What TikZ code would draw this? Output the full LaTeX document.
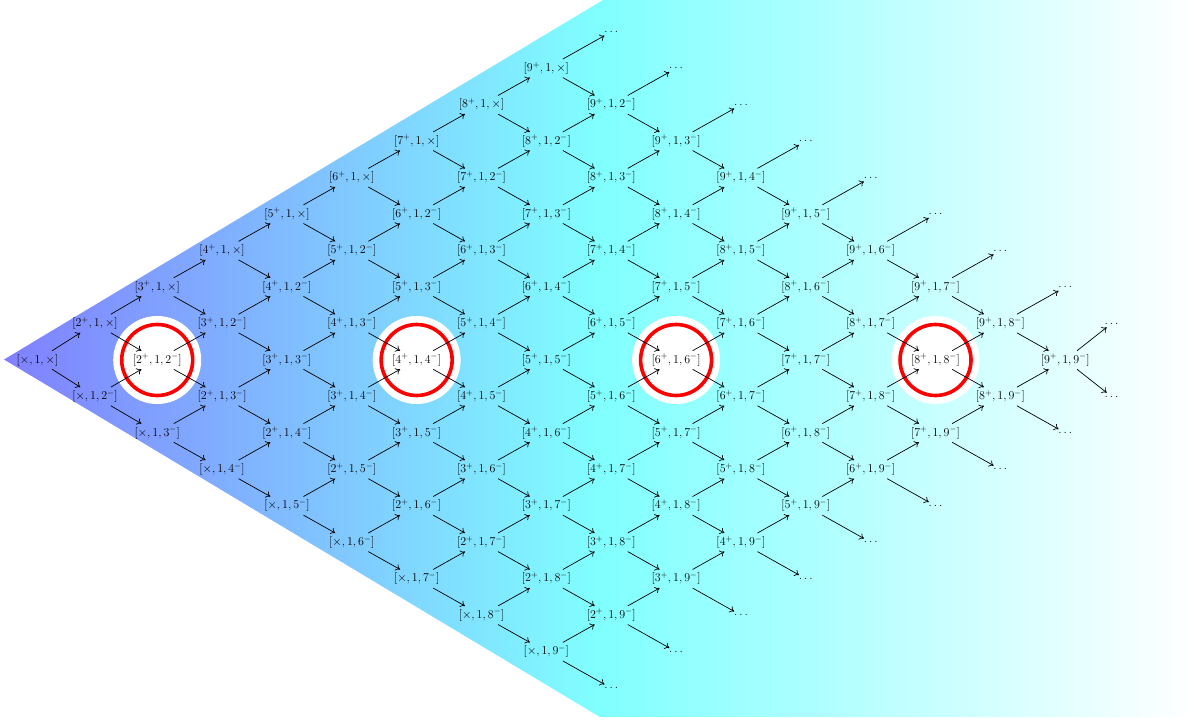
\documentclass[tikz,border=0pt]{standalone}
\usetikzlibrary{arrows.meta}
\begin{document}
\begin{tikzpicture}[x=1pt,y=-1pt,
  lbl/.style={font=\fontsize{12}{14}\selectfont, inner sep=3pt},
  dotsnode/.style={font=\fontsize{12}{14}\selectfont, inner sep=3pt},
  arr/.style={-{To[length=4.5pt,width=7pt]}, line width=0.7pt},
  ring/.style={draw=red, line width=3.6pt},
  halo/.style={fill=white}]
\useasboundingbox (0,0) rectangle (1193,717);
\shade[left color=blue!50, right color=white, middle color=cyan!50]
  (4,359.5) -- (603,0) -- (1193,0) -- (1193,717) -- (600,717) -- cycle;
% circles around the diagonal nodes
\foreach \k in {2,4,6,8}{
  \pgfmathsetmacro\xx{157.2+64.86*(2*\k-4)}
  \fill[halo] (\xx,360) circle[radius=44pt];
  \draw[ring] (\xx,360) circle[radius=35.5pt];
}
% main nodes
\foreach \a in {1,...,9}{
  \foreach \b in {1,...,9}{
    \pgfmathsetmacro\c{\a+\b-2}
    \pgfmathsetmacro\xx{\c==0 ? 37.5 : (\c==1 ? 95 : 157.2+64.86*(\c-2))}
    \pgfmathsetmacro\yy{360+36.46*(\b-\a)}
    \node[lbl] (n-\a-\b) at (\xx,\yy)
      {$[\ifnum\a=1 \times\else \a^{+}\fi,1,\ifnum\b=1 \times\else \b^{-}\fi]$};
  }
}
% continuation dots
\foreach \b in {1,...,9}{
  \pgfmathsetmacro\xx{\b==9 ? 1111.5 : 157.2+64.86*(\b+6)}
  \pgfmathsetmacro\yy{360+36.46*(\b-10)}
  \node[dotsnode] (n-10-\b) at (\xx,\yy) {$\ldots$};
}
\foreach \a in {1,...,9}{
  \pgfmathsetmacro\xx{\a==9 ? 1111.5 : 157.2+64.86*(\a+6)}
  \pgfmathsetmacro\yy{360+36.46*(10-\a)}
  \node[dotsnode] (n-\a-10) at (\xx,\yy) {$\ldots$};
}
% arrows
\foreach \a in {1,...,9}{
  \foreach \b in {1,...,9}{
    \pgfmathtruncatemacro\an{\a+1}
    \pgfmathtruncatemacro\bn{\b+1}
    \draw[arr] (n-\a-\b) -- (n-\an-\b);
    \draw[arr] (n-\a-\b) -- (n-\a-\bn);
  }
}
\end{tikzpicture}
\end{document}
